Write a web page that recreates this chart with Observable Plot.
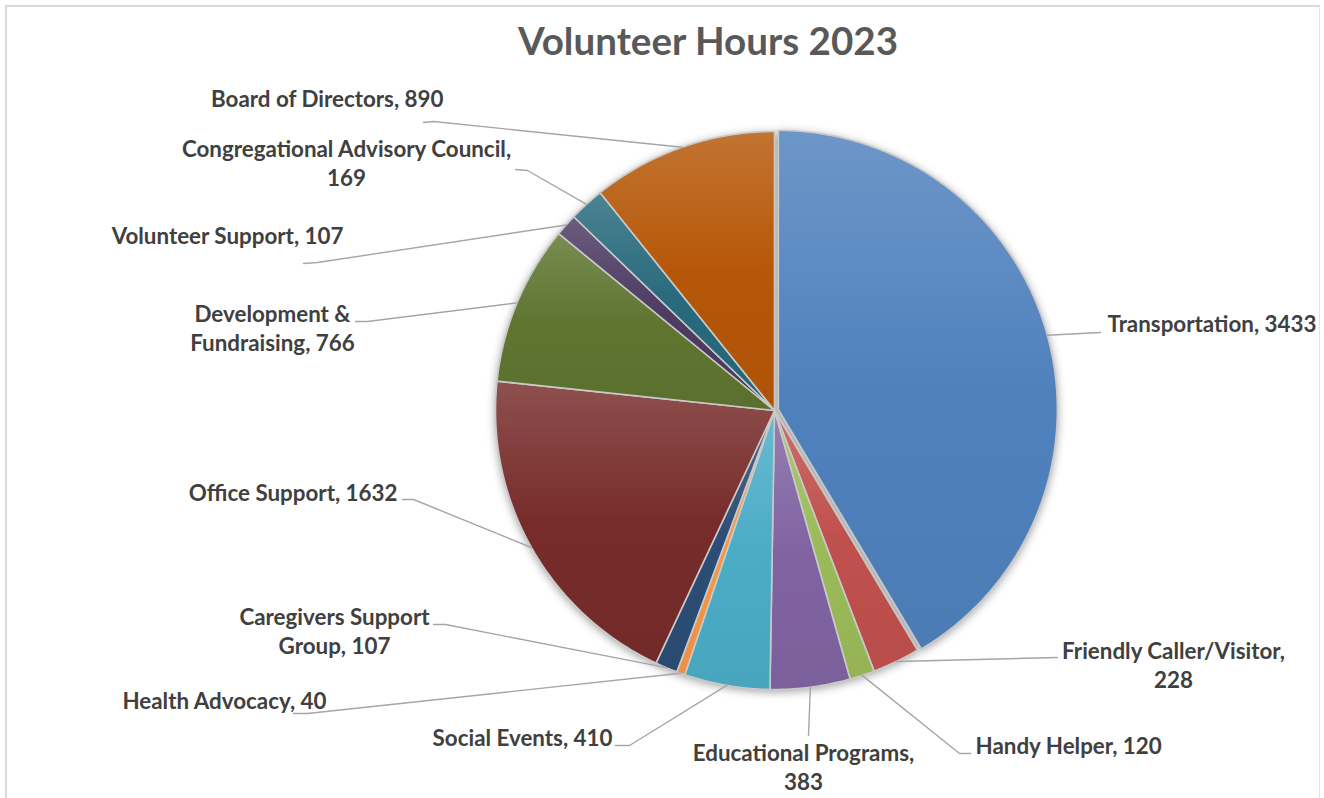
<!DOCTYPE html>
<html>
<head>
<meta charset="utf-8">
<script src="https://cdn.jsdelivr.net/npm/d3@7"></script>
<script src="https://cdn.jsdelivr.net/npm/@observablehq/plot@0.6"></script>
<style>
  html, body { margin: 0; padding: 0; background: #fff; width: 1324px; height: 798px; overflow: hidden; }
  #title { position: absolute; left: 708px; top: 0; transform: translateX(-50%); white-space: nowrap;
           font-family: Lato, "Open Sans", sans-serif; font-weight: bold; color: #595959; }
  #chart { position: absolute; left: 0; top: 75px; }
  #frame { position: absolute; left: 5px; top: 5px; width: 1315px; height: 830px; box-sizing: border-box;
           border-top: 2px solid #d9d9d9; border-left: 2px solid #d9d9d9; border-right: 1px solid #e4e4e4;
           pointer-events: none; }
</style>
</head>
<body>
<div id="title">Volunteer Hours 2023</div>
<div id="chart"></div>
<div id="frame"></div>
<script>
// ---------------- data ----------------
const categories = [
  "Transportation", "Friendly Caller/Visitor", "Handy Helper", "Educational Programs",
  "Social Events", "Health Advocacy", "Caregivers Support Group", "Office Support",
  "Development & Fundraising", "Volunteer Support", "Congregational Advisory Council",
  "Board of Directors"
];
const hours = [3433, 228, 120, 383, 410, 40, 107, 1632, 766, 107, 169, 890];
const sliceColors = [
  "#4F81BD", "#C0504D", "#9BBB59", "#8064A2", "#4BACC6", "#F79646",
  "#2C4D75", "#772C2A", "#5F7530", "#4D3B62", "#276A7C", "#B65708"
];
const titleText = "Volunteer Hours 2023";

// ---------------- layout (page pixels) ----------------
const W = 1324, TOP = 75, H = 798 - TOP;
const CX = 774, CY = 410, R = 279;
const explodePx = [4, 0, 0, 0, 0, 0, 0, 0, 0, 0, 0, 0];
const breakAfterWords = [0, 2, 0, 2, 0, 0, 2, 0, 2, 0, 3, 0];
const labelLayout = [
  {anchor: "start",  x: 1107, y: 331, leader: [[1100, 332]]},
  {anchor: "middle", x: 1173, y: 658, leader: [[1057, 657]]},
  {anchor: "start",  x: 975,  y: 753, leader: [[959, 753], [970, 753]]},
  {anchor: "middle", x: 803,  y: 760, leader: [[808, 735]]},
  {anchor: "end",    x: 612,  y: 745, leader: [[629, 745], [615, 745]]},
  {anchor: "end",    x: 326,  y: 708, leader: [[307, 713], [293, 713]]},
  {anchor: "middle", x: 334,  y: 624, leader: [[445, 624], [433, 624]]},
  {anchor: "end",    x: 397,  y: 500, leader: [[413, 499], [402, 499]]},
  {anchor: "middle", x: 272,  y: 321, leader: [[367, 321], [355, 321]]},
  {anchor: "end",    x: 343,  y: 243, leader: [[317, 262], [303, 263]]},
  {anchor: "middle", x: 346,  y: 156, leader: [[527, 170], [515, 169]]},
  {anchor: "end",    x: 443,  y: 106, leader: [[433, 121], [423, 122]]}
];
const lineGap = 29;

const ux = (px) => (px - CX) / R;
const uy = (py) => (CY - py) / R;

// ---------------- fonts ----------------
const FONT = "Lato";
function fitSize(str, target) {
  const ctx = document.createElement("canvas").getContext("2d");
  ctx.font = `bold 100px ${FONT}`;
  return 100 * target / ctx.measureText(str).width;
}
const labelSize = fitSize("Board of Directors, 890", 233);
const titleSize = fitSize(titleText, 381);
const titleEl = document.getElementById("title");
titleEl.style.fontSize = titleSize + "px";
titleEl.style.lineHeight = "1";
titleEl.style.top = (55 - 0.99 * titleSize + 0.1 * titleSize) + "px";

// ---------------- geometry from data ----------------
const arcs = d3.pie().sort(null).value((d) => d)(hours);
const slicePts = [];
const leaderPts = [];
arcs.forEach((a, i) => {
  const mid = (a.startAngle + a.endAngle) / 2;
  const ox = explodePx[i] / R * Math.sin(mid), oy = explodePx[i] / R * Math.cos(mid);
  slicePts.push({i, x: ox, y: oy});
  const n = Math.max(2, Math.ceil((a.endAngle - a.startAngle) / (Math.PI / 360)));
  for (let k = 0; k <= n; k++) {
    const t = a.startAngle + (a.endAngle - a.startAngle) * k / n;
    slicePts.push({i, x: ox + Math.sin(t), y: oy + Math.cos(t)});
  }
  leaderPts.push({i, x: ox + Math.sin(mid), y: oy + Math.cos(mid)});
  labelLayout[i].leader.forEach(([px, py]) => leaderPts.push({i, x: ux(px), y: uy(py)}));
});

const labels = categories.map((c, i) => {
  const words = `${c}, ${hours[i]}`.split(" ");
  const b = breakAfterWords[i];
  const text = b ? words.slice(0, b).join(" ") + "\n" + words.slice(b).join(" ") : words.join(" ");
  const nLines = b ? 2 : 1;
  const L = labelLayout[i];
  return {i, text, anchor: L.anchor, x: ux(L.x), y: uy(L.y + (nLines - 1) * lineGap)};
});

const textOpts = (anchor) => ({
  x: "x", y: "y", text: "text", textAnchor: anchor, lineAnchor: "bottom",
  fontFamily: FONT, fontWeight: "bold", fontSize: labelSize, lineHeight: lineGap / labelSize,
  fill: "#404040"
});

const chart = Plot.plot({
  width: W, height: H,
  margin: 0,
  style: {background: "transparent", overflow: "visible"},
  x: {type: "linear", domain: [ux(0), ux(W)], axis: null},
  y: {type: "linear", domain: [uy(CY + (H - (CY - TOP))), uy(TOP)], axis: null},
  color: {type: "identity"},
  marks: [
    Plot.line(slicePts, {x: "x", y: "y", z: "i", curve: "linear-closed",
      fill: (d) => `url(#sliceGrad${d.i})`, stroke: "#c9c9c9", strokeWidth: 1.6, strokeLinejoin: "round"}),
    Plot.line(leaderPts, {x: "x", y: "y", z: "i", stroke: "#a6a6a6", strokeWidth: 1.4}),
    Plot.text(labels.filter((d) => d.anchor === "start"), textOpts("start")),
    Plot.text(labels.filter((d) => d.anchor === "middle"), textOpts("middle")),
    Plot.text(labels.filter((d) => d.anchor === "end"), textOpts("end"))
  ]
});

// gradients (per-slice, top lighter like the original)
const ns = "http://www.w3.org/2000/svg";
const defs = document.createElementNS(ns, "defs");
sliceColors.forEach((c, i) => {
  const g = document.createElementNS(ns, "linearGradient");
  g.setAttribute("id", `sliceGrad${i}`);
  g.setAttribute("x1", "0"); g.setAttribute("y1", "0");
  g.setAttribute("x2", "0"); g.setAttribute("y2", "1");
  [[0, d3.interpolateRgb(c, "#ffffff")(0.17)], [0.5, c], [1, d3.rgb(c).darker(0.12).formatHex()]].forEach(([o, col]) => {
    const s = document.createElementNS(ns, "stop");
    s.setAttribute("offset", o);
    s.setAttribute("stop-color", col);
    g.appendChild(s);
  });
  defs.appendChild(g);
});
chart.insertBefore(defs, chart.firstChild);
const lineGroups = chart.querySelectorAll('g[aria-label="line"]');
if (lineGroups[0]) lineGroups[0].style.filter = "drop-shadow(0px 2px 4px rgba(0,0,0,0.35))";

document.getElementById("chart").appendChild(chart);
</script>
</body>
</html>
